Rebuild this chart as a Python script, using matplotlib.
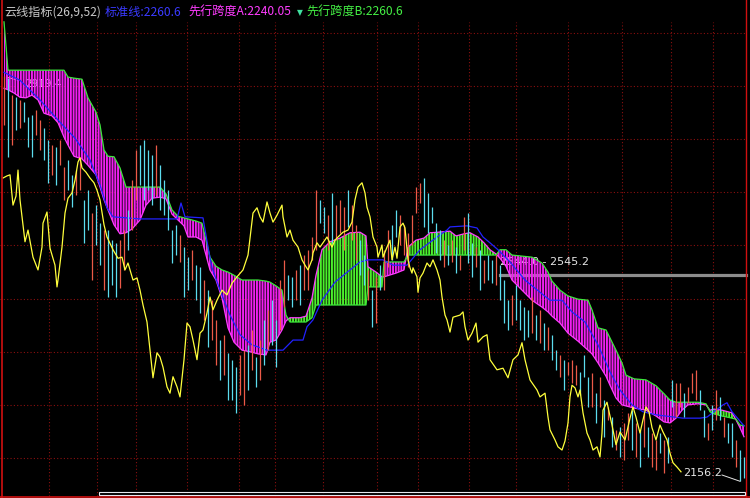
"""
Ichimoku cloud (云线指标) chart on black background, daily index bars.
"""
import matplotlib
matplotlib.use('Agg')
import matplotlib.pyplot as plt
from matplotlib.patches import Rectangle

plt.rcParams['font.family'] = ['Noto Sans CJK SC', 'DejaVu Sans']
plt.rcParams['hatch.linewidth'] = 1.4

# ---- bars: position = index + 1 ----
bar_high = [2919.4, 2915, 2883, 2879, 2874, 2870, 2842, 2846, 2855, 2836,
            2821, 2799, 2789, 2785, 2799, 2748, 2761, 2733, 2742, 2767,
            2686, 2704, 2661, 2676, 2642, 2629, 2629, 2610, 2605, 2610,
            2629, 2667, 2723, 2780, 2789, 2799, 2780, 2770, 2789, 2751,
            2723, 2704, 2629, 2639, 2620, 2597, 2578, 2592, 2563, 2560,
            2535, 2516, 2497, 2460, 2422, 2432, 2398, 2385, 2371, 2394,
            2403, 2413, 2441, 2390, 2422, 2460, 2479, 2497, 2460, 2535,
            2573, 2544, 2541, 2554, 2563, 2582, 2592, 2616, 2704, 2686,
            2672, 2657, 2699, 2676, 2686, 2672, 2704, 2676, 2639, 2610,
            2582, 2554, 2516, 2541, 2563, 2592, 2629, 2639, 2667, 2657,
            2639, 2624, 2657, 2710, 2718, 2727, 2699, 2672, 2642, 2629,
            2610, 2601, 2610, 2597, 2582, 2654, 2661, 2605, 2597, 2592,
            2573, 2582, 2573, 2582, 2563, 2535, 2497, 2507, 2526, 2497,
            2484, 2479, 2503, 2469, 2479, 2454, 2447, 2432, 2403, 2394,
            2385, 2381, 2385, 2375, 2362, 2394, 2353, 2360, 2322, 2353,
            2309, 2296, 2277, 2253, 2258, 2266, 2285, 2290, 2266, 2253,
            2285, 2258, 2247, 2234, 2247, 2234, 2240, 2347, 2341, 2341,
            2322, 2334, 2360, 2366, 2328, 2290, 2266, 2300, 2328, 2315,
            2277, 2266, 2266, 2234, 2215, 2202]
bar_low = [2827, 2767, 2789, 2817, 2821, 2832, 2785, 2767, 2808, 2780,
           2761, 2718, 2733, 2714, 2751, 2686, 2704, 2672, 2695, 2704,
           2605, 2629, 2535, 2601, 2563, 2516, 2503, 2526, 2503, 2520,
           2554, 2592, 2629, 2686, 2714, 2686, 2704, 2676, 2695, 2667,
           2657, 2629, 2567, 2582, 2569, 2503, 2516, 2535, 2497, 2473,
           2460, 2409, 2422, 2375, 2347, 2356, 2309, 2309, 2285, 2319,
           2300, 2328, 2366, 2334, 2347, 2375, 2403, 2413, 2371, 2441,
           2484, 2497, 2484, 2497, 2488, 2516, 2516, 2573, 2592, 2642,
           2624, 2592, 2605, 2610, 2624, 2592, 2635, 2610, 2573, 2544,
           2526, 2497, 2447, 2454, 2516, 2516, 2560, 2573, 2616, 2601,
           2582, 2560, 2601, 2661, 2680, 2635, 2624, 2642, 2586, 2573,
           2560, 2563, 2569, 2548, 2554, 2592, 2567, 2541, 2560, 2516,
           2529, 2535, 2529, 2526, 2497, 2454, 2441, 2450, 2460, 2441,
           2422, 2428, 2435, 2422, 2417, 2403, 2403, 2385, 2366, 2353,
           2328, 2356, 2341, 2337, 2319, 2353, 2296, 2296, 2266, 2296,
           2240, 2272, 2221, 2215, 2202, 2196, 2234, 2215, 2202, 2183,
           2221, 2202, 2183, 2177, 2209, 2172, 2190, 2296, 2277, 2296,
           2277, 2304, 2322, 2309, 2290, 2240, 2234, 2253, 2272, 2272,
           2240, 2228, 2202, 2183, 2156.2, 2162]
# r = up (red), c = down (cyan)
bar_dir = ("rcrcrcccrrccrcrrccrr" "ccrccrcccrrcrrccccrc" "ccccrccrccrcrrcrcccr"
           "rcrcrcrccrrccrcrrrrc" "crcrrrcrrccrcrcrrccr" "rrrrrcccccrcrcrrccrc"
           "rccrcccrccccrcrcrccr" "crrrcccrcrcrcrcrrcrc" "rcrrcrccrrcrrrccrcrc"
           "rccrcc")

# ---- cloud: leading spans A and B ----
cloud_x = [1, 2, 3.5, 5, 6.5, 8, 9.5, 11, 13, 14.5, 16, 17, 18.5, 20.5, 22, 24, 25, 26,
           27, 28.5, 30, 31.5, 33, 35, 36.5, 38, 40, 41.5, 43, 44.5, 46, 47, 49, 50.5,
           51.5, 52.5, 54, 55.5, 57, 58.5, 60.5, 62.5, 64.5, 66.5, 67.5, 69, 70.5, 71.5,
           72.5, 75, 76.5, 78, 79, 80.5, 82.5, 85, 87.5, 90, 91.5, 92, 94, 95.5, 96, 99,
           101, 102, 104, 106, 107.5, 109.5, 112.5, 114, 116, 117.5, 119.5, 121, 122.5,
           124, 125, 126.5, 128, 130.5, 133, 135.5, 137, 138, 140, 142, 144.5, 147, 148,
           149.5, 151.5, 152.5, 154, 155.5, 156.5, 158.5, 161.5, 164, 166, 167.5, 169,
           170.5, 172, 174.5, 176.5, 177.5, 178.5, 180.5, 183, 184, 185, 186]
span_a = [2896, 2893, 2887, 2879, 2878, 2883, 2874, 2849, 2844, 2831, 2804, 2789, 2768,
          2763, 2751, 2733, 2710, 2686, 2667, 2639, 2622, 2624, 2631, 2648, 2676, 2689,
          2691, 2688, 2659, 2648, 2637, 2616, 2616, 2610, 2582, 2554, 2535, 2501, 2445,
          2418, 2403, 2400, 2396, 2394, 2418, 2422, 2441, 2458, 2464, 2464, 2467, 2501,
          2544, 2592, 2607, 2614, 2624, 2625, 2618, 2560, 2550, 2541, 2541, 2548, 2554,
          2597, 2610, 2614, 2624, 2625, 2627, 2618, 2622, 2624, 2616, 2605, 2592, 2584,
          2576, 2561, 2535, 2516, 2497, 2484, 2475, 2467, 2454, 2435, 2420, 2403, 2396,
          2379, 2354, 2337, 2313, 2300, 2298, 2294, 2290, 2279, 2268, 2266, 2275, 2290,
          2300, 2302, 2300, 2290, 2292, 2290, 2285, 2272, 2257, 2240.05]
span_b = [3021, 2930, 2930, 2930, 2930, 2930, 2930, 2930, 2930, 2930, 2930, 2917, 2915,
          2913, 2878, 2851, 2827, 2780, 2768, 2767, 2746, 2710, 2710, 2710, 2710, 2710,
          2710, 2697, 2667, 2655, 2652, 2650, 2646, 2642, 2610, 2578, 2561, 2554, 2550,
          2544, 2535, 2535, 2535, 2533, 2531, 2524, 2516, 2469, 2456, 2456, 2456, 2464,
          2488, 2488, 2488, 2488, 2488, 2488, 2488, 2522, 2522, 2522, 2569, 2569, 2569,
          2582, 2582, 2582, 2582, 2582, 2582, 2582, 2582, 2582, 2582, 2582, 2582, 2582,
          2592, 2592, 2582, 2580, 2578, 2567, 2550, 2533, 2516, 2505, 2499, 2497, 2479,
          2445, 2441, 2426, 2403, 2379, 2356, 2349, 2347, 2336, 2321, 2309, 2305, 2305,
          2305, 2305, 2302, 2287, 2283, 2279, 2275, 2273, 2262, 2260.6]

# ---- base line (标准线) ----
kijun_x = [1, 5, 10, 15, 18.75, 22.5, 25, 26.75, 28.25, 35, 44.25, 45.25, 46.25, 50.75,
           52, 53, 55, 57.5, 60, 63, 66.75, 70.75, 73.25, 75.75, 76.75, 78.25, 80.5,
           83.75, 87.5, 90, 92, 95.75, 98.25, 101.75, 105, 110, 111.75, 112.5, 116.75,
           119.25, 120.75, 122.5, 124.5, 127.5, 131.25, 135, 137.5, 140.5, 143, 146.25,
           149.5, 152.5, 155, 158, 160.75, 164.25, 170.75, 175, 176.75, 180.75, 181.75,
           183, 186]
kijun = [2926, 2911, 2874, 2832, 2802, 2761, 2714, 2671, 2654, 2650, 2650, 2680, 2654,
         2652, 2597, 2558, 2516, 2469, 2432, 2413, 2403, 2403, 2422, 2422, 2447, 2460,
         2497, 2531, 2554, 2569, 2573, 2573, 2563, 2563, 2592, 2620, 2629, 2635, 2637,
         2633, 2616, 2605, 2592, 2569, 2535, 2512, 2497, 2497, 2475, 2456, 2413, 2362,
         2328, 2300, 2287, 2281, 2275, 2275, 2277, 2300, 2304, 2287, 2260.6]

# ---- lagging line (yellow) ----
chikou_x = [0.75, 1.75, 2.5, 3.25, 4, 4.5, 5, 6.25, 7, 8.25, 9.5, 10.5, 10.75, 11.75,
            12.5, 13.75, 14.25, 14.5, 15.5, 16.25, 17, 18, 18.75, 19.5, 20, 20.5, 21.5,
            22.5, 23.5, 24.25, 25, 26, 26.75, 28.25, 29.5, 30.5, 31.25, 32, 33.25, 34.25,
            35, 35.75, 36.75, 37.5, 38.25, 39.25, 40, 40.75, 41.75, 42.5, 43.25, 44.25,
            45, 46, 46.75, 47.5, 48.25, 49.25, 50, 50.75, 51.75, 52.5, 53.25, 54.25,
            55.5, 56.75, 58, 59.25, 60.75, 62, 63.25, 64.25, 65, 65.75, 66.75, 67.5,
            68.25, 69.25, 70.5, 70.75, 71.75, 72.5, 73.25, 74.5, 75.5, 76.25, 77, 78,
            78.25, 79.25, 80, 81.75, 83, 83.75, 84.5, 85.75, 87, 88, 88.75, 89.5, 90.5,
            91.25, 91.75, 92.5, 93.25, 94.25, 94.5, 95.5, 95.75, 96.75, 97.5, 98, 98.75,
            99.25, 100, 100.75, 101.25, 101.75, 102, 102.5, 103, 103.25, 104.25, 104.5,
            105, 105.75, 106.75, 107.5, 108.25, 109.25, 110, 110.5, 111.25, 111.75,
            112.5, 113.25, 115, 115.75, 116.25, 117, 118, 119, 119.5, 120.75, 121.75,
            122.5, 124.25, 125.75, 127, 128.25, 129.5, 130.5, 131.25, 132.5, 134.25,
            135, 136.25, 137, 137.5, 138.75, 139.5, 140.5, 141.25, 142, 142.5, 143,
            143.75, 144.5, 145, 145.75, 146.75, 147.5, 148.25, 149.25, 150, 150.5,
            150.75, 151.75, 152, 153, 154, 155, 156.25, 157.5, 158.25, 159, 160, 160.75,
            161.5, 162.25, 163, 164, 165, 165.75, 166.75, 167.5, 168.25, 169.25, 170.25]
chikou = [2727, 2731, 2733, 2676, 2693, 2742, 2686, 2607, 2629, 2578, 2554, 2597, 2642,
          2663, 2595, 2563, 2522, 2535, 2597, 2661, 2689, 2699, 2723, 2757, 2765, 2746,
          2738, 2727, 2718, 2704, 2686, 2639, 2616, 2592, 2576, 2578, 2554, 2567, 2535,
          2539, 2516, 2488, 2456, 2403, 2351, 2398, 2390, 2371, 2334, 2322, 2353, 2334,
          2315, 2385, 2454, 2447, 2422, 2385, 2435, 2441, 2473, 2503, 2479, 2497, 2516,
          2507, 2529, 2541, 2554, 2582, 2661, 2671, 2654, 2644, 2682, 2661, 2644, 2657,
          2676, 2654, 2616, 2629, 2610, 2597, 2573, 2563, 2554, 2573, 2586, 2605, 2597,
          2616, 2597, 2610, 2616, 2625, 2629, 2644, 2686, 2710, 2718, 2699, 2672, 2654,
          2616, 2597, 2578, 2601, 2578, 2597, 2610, 2573, 2597, 2576, 2635, 2642, 2633,
          2592, 2573, 2558, 2548, 2558, 2541, 2512, 2539, 2548, 2567, 2560, 2573, 2554,
          2535, 2503, 2469, 2460, 2437, 2465, 2469, 2475, 2447, 2422, 2435, 2454, 2418,
          2428, 2432, 2385, 2366, 2369, 2351, 2385, 2394, 2417, 2385, 2347, 2328, 2315,
          2322, 2277, 2253, 2234, 2221, 2215, 2232, 2266, 2315, 2337, 2332, 2315, 2328,
          2285, 2247, 2234, 2215, 2221, 2202, 2247, 2290, 2305, 2296, 2262, 2225, 2249,
          2234, 2275, 2296, 2277, 2247, 2272, 2296, 2287, 2257, 2234, 2262, 2249, 2234,
          2209, 2191, 2183, 2174]

date_lines = [12.25, 24.25, 34, 46.75, 59.75, 68.75, 80.75, 94.25, 104.5, 117.25, 129,
              142, 155.5, 167.75, 178.25]
price_lines = [2200, 2300, 2400, 2500, 2600, 2700, 2800, 2900, 3000]

last_price = 2545.2
high_label, low_label = 2919.4, 2156.2

# ---- colours ----
BG = 'black'
GRID = '#8a0f0f'
UP = '#ec5a48'
DOWN = '#5cdcee'
MAG = '#f020f0'
GRN = '#4cf02c'

fig = plt.figure(figsize=(7.5, 4.98), dpi=100, facecolor=BG)
ax = fig.add_axes([0, 0, 1, 1], facecolor=BG)
ax.set_xlim(0, 187.5)
ax.set_ylim(2124.7, 3062.1)
ax.set_axis_off()

# grid
for p in price_lines:
    ax.plot([0, 186.6], [p, p], color=GRID, lw=0.8, ls=(0, (1, 2)), zorder=1)
for d in date_lines:
    ax.plot([d, d], [2128, 3021], color=GRID, lw=0.8, ls=(0, (1, 2)), zorder=1)

# labels under the cloud stripes
ax.text(6.25, 2904, f'{high_label:.1f}', color='#e6e6e6', fontsize=7.5,
        family='DejaVu Sans', va='center', zorder=1.5)
ax.plot([1.75, 5.75], [2917, 2908], color='#e6e6e6', lw=0.7, ls=(0, (2, 1.5)), zorder=1.5)
ax.plot([125, 186.6], [last_price, last_price], color='#8c8c8c', lw=2.3, zorder=1.4)
ax.text(125, 2569, '2544.0 - %.1f' % last_price, color='#e6e6e6', fontsize=8,
        family='DejaVu Sans', va='center', zorder=1.5)

# cloud
above = [a >= b for a, b in zip(span_a, span_b)]
below = [a <= b for a, b in zip(span_a, span_b)]
ax.fill_between(cloud_x, span_a, span_b, where=below, interpolate=True,
                facecolor='none', edgecolor=MAG, hatch='||||||', lw=0, zorder=2)
ax.fill_between(cloud_x, span_a, span_b, where=above, interpolate=True,
                facecolor='none', edgecolor=GRN, hatch='||||||', lw=0, zorder=2)
ax.plot(cloud_x, span_a, color='#ff3cff', lw=0.9, zorder=3)
ax.plot(cloud_x, span_b, color='#3ce83c', lw=0.9, zorder=3)
ax.plot(kijun_x, kijun, color='#2222ff', lw=0.9, zorder=3)

# bars
pos = list(range(1, len(bar_high) + 1))
colors = [UP if d == 'r' else DOWN for d in bar_dir]
ax.vlines(pos, bar_low, bar_high, colors=colors, lw=0.9, zorder=4)

# lagging line
ax.plot(chikou_x, chikou, color='#ffff3c', lw=0.9, zorder=5)

# low label
ax.text(170.75, 2172, f'{low_label:.1f}', color='#e6e6e6', fontsize=8,
        family='DejaVu Sans', va='center', zorder=6)
ax.plot([180.5, 185], [2168, low_label], color='#e6e6e6', lw=0.7, zorder=6)

# frame: red borders, scrollbar line
T = ax.transAxes
ax.plot([0.002, 0.002], [0, 1], color='#d01010', lw=1.2, transform=T, zorder=7)
ax.plot([0.9953, 0.9953], [0, 1], color='#d01010', lw=1.0, transform=T, zorder=7)
ax.plot([0, 1], [0.002, 0.002], color='#d01010', lw=1.2, transform=T, zorder=7)
ax.add_patch(Rectangle((99 / 750, 1 - 494.5 / 498), 646 / 750, 2.5 / 498,
                       transform=T, fill=False, edgecolor='#e8e8f0', lw=0.8, zorder=7))

# header
hy = 1 - 12.5 / 498
fig.text(4 / 750, hy, '云线指标(26,9,52)', color='#c8c8c8', fontsize=8.7, va='center')
fig.text(105 / 750, hy, '标准线:2260.6', color='#3a3aff', fontsize=8.7, va='center')
fig.text(188 / 750, hy, '先行跨度A:2240.05', color='#ff3cff', fontsize=8.7, va='center')
fig.text(297 / 750, hy, '▼', color='#40e0a0', fontsize=5.5, va='center', family='DejaVu Sans')
fig.text(306 / 750, hy, '先行跨度B:2260.6', color='#44ee44', fontsize=8.7, va='center')

fig.savefig('out.png', dpi=100, facecolor=BG)
